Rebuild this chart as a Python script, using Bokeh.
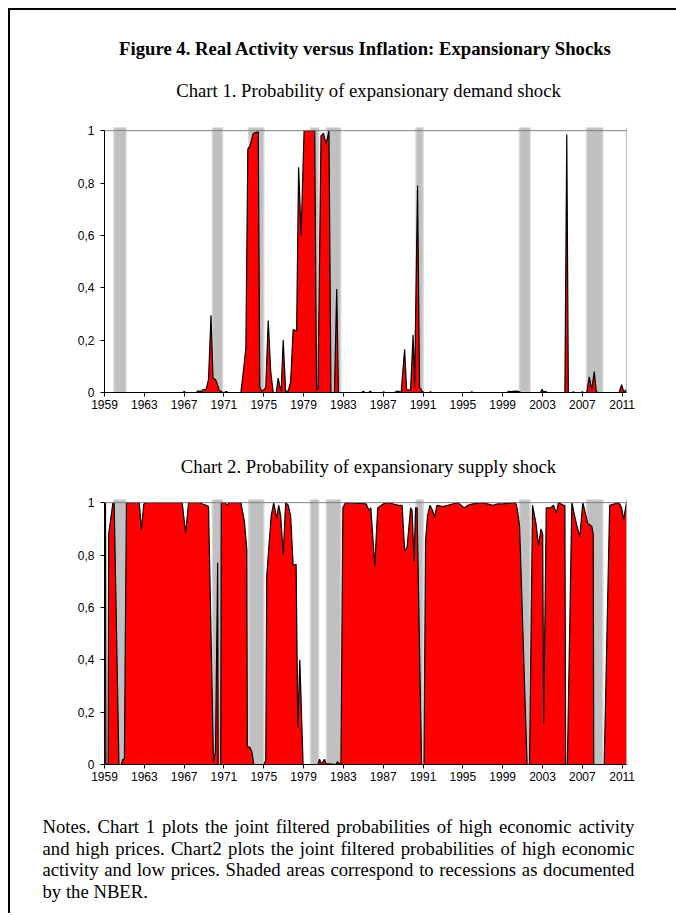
from bokeh.plotting import figure
from bokeh.layouts import column
from bokeh.models import Span, FixedTicker
from bokeh.core.properties import value
from bokeh.embed import file_html
from bokeh.resources import INLINE

# ---------------- data ----------------
recession_start = [1959.95, 1969.85, 1973.5, 1979.7, 1981.3, 1990.3, 2000.7, 2007.45]
recession_end = [1961.15, 1970.85, 1975.0, 1980.5, 1982.72, 1991.0, 2001.75, 2009.05]

demand_years = [1959.00, 1966.90, 1967.00, 1967.15, 1968.20, 1968.40, 1968.70, 1968.95, 1969.20, 1969.45,
                1969.70, 1969.90, 1970.15, 1970.35, 1970.50, 1970.75, 1971.00, 1971.25, 1971.40, 1972.70,
                1972.95, 1973.20, 1973.40, 1973.60, 1973.75, 1973.95, 1974.45, 1974.60, 1974.80, 1975.00,
                1975.20, 1975.45, 1975.70, 1975.95, 1976.25, 1976.45, 1976.60, 1976.75, 1976.95, 1977.20,
                1977.45, 1977.70, 1977.95, 1978.30, 1978.50, 1978.75, 1979.05, 1980.12, 1980.30, 1980.45,
                1980.75, 1981.00, 1981.25, 1981.40, 1981.55, 1981.75, 1982.10, 1982.33, 1982.50, 1984.85,
                1985.00, 1985.15, 1985.55, 1985.70, 1985.85, 1986.95, 1987.05, 1987.15, 1988.15, 1988.35,
                1988.60, 1988.80, 1989.15, 1989.35, 1989.75, 1990.00, 1990.15, 1990.45, 1990.65, 1990.90,
                1991.10, 1991.65, 1991.75, 1991.85, 1995.80, 1995.90, 1996.00, 1999.40, 1999.60, 1999.90,
                2000.20, 2000.60, 2000.85, 2002.80, 2002.95, 2003.10, 2003.30, 2003.45, 2005.25, 2005.44,
                2005.60, 2006.00, 2006.10, 2006.20, 2006.90, 2007.00, 2007.10, 2007.45, 2007.70, 2007.95,
                2008.20, 2008.40, 2008.55, 2010.70, 2010.95, 2011.15, 2011.44]
demand_prob = [0.0, 0.0, 0.004, 0.0, 0.0, 0.006, 0.004, 0.012, 0.010, 0.050,
               0.295, 0.055, 0.050, 0.030, 0.010, 0.003, 0.0, 0.004, 0.0, 0.0,
               0.080, 0.170, 0.930, 0.940, 0.960, 0.990, 0.995, 0.020, 0.005, 0.010,
               0.020, 0.275, 0.080, 0.0, 0.0, 0.055, 0.025, 0.005, 0.200, 0.005,
               0.005, 0.040, 0.240, 0.235, 0.860, 0.600, 1.0, 1.0, 0.010, 0.015,
               0.980, 0.990, 0.950, 0.970, 1.0, 0.0, 0.0, 0.395, 0.0, 0.0,
               0.005, 0.0, 0.0, 0.005, 0.0, 0.0, 0.003, 0.0, 0.0, 0.005,
               0.004, 0.0, 0.165, 0.010, 0.010, 0.220, 0.020, 0.790, 0.020, 0.005,
               0.0, 0.0, 0.003, 0.0, 0.0, 0.003, 0.0, 0.0, 0.004, 0.003,
               0.005, 0.004, 0.0, 0.0, 0.012, 0.002, 0.005, 0.0, 0.0, 0.985,
               0.0, 0.0, 0.003, 0.0, 0.0, 0.003, 0.0, 0.0, 0.060, 0.010,
               0.080, 0.005, 0.0, 0.0, 0.030, 0.003, 0.010]

supply_years = [1959.00, 1959.10, 1959.15, 1959.35, 1959.42, 1959.85, 1959.97, 1960.45, 1960.70, 1960.85,
                1961.00, 1961.20, 1962.50, 1962.70, 1962.95, 1963.20, 1966.80, 1967.15, 1967.45, 1968.60,
                1968.85, 1969.20, 1969.45, 1969.95, 1970.15, 1970.37, 1970.42, 1970.68, 1970.73, 1971.10,
                1971.30, 1971.50, 1972.70, 1973.05, 1973.30, 1973.35, 1973.60, 1973.80, 1974.00, 1975.00,
                1975.20, 1975.30, 1975.45, 1975.75, 1976.00, 1976.30, 1976.50, 1976.70, 1976.95, 1977.20,
                1977.45, 1977.70, 1977.95, 1978.25, 1978.42, 1978.62, 1978.95, 1980.45, 1980.60, 1980.75,
                1980.95, 1981.10, 1981.25, 1982.25, 1982.40, 1982.55, 1982.75, 1982.95, 1983.20, 1985.30,
                1985.45, 1985.60, 1985.75, 1986.15, 1986.45, 1987.00, 1987.50, 1988.50, 1988.90, 1989.15,
                1989.40, 1989.75, 1989.90, 1990.10, 1990.25, 1990.40, 1990.85, 1991.10, 1991.25, 1991.45,
                1991.70, 1991.95, 1992.15, 1992.40, 1993.00, 1993.50, 1994.50, 1995.15, 1995.50, 1996.00,
                1997.00, 1998.00, 1998.50, 1999.00, 2000.30, 2000.45, 2000.70, 2001.45, 2001.70, 2002.00,
                2002.35, 2002.60, 2002.85, 2003.02, 2003.12, 2003.38, 2003.80, 2004.10, 2004.40, 2004.60,
                2005.10, 2005.25, 2005.33, 2005.50, 2005.95, 2006.40, 2006.75, 2007.05, 2007.30, 2007.55,
                2007.95, 2008.10, 2008.15, 2009.20, 2009.75, 2010.65, 2010.95, 2011.15, 2011.44]
supply_prob = [1.0, 1.0, 0.0, 0.0, 0.88, 1.0, 1.0, 0.0, 0.0, 0.02,
               0.02, 1.0, 1.0, 0.895, 0.995, 1.0, 1.0, 0.885, 1.0, 1.0,
               0.995, 0.99, 0.985, 0.010, 0.050, 0.770, 0.0, 0.0, 1.0, 1.0,
               0.99, 1.0, 1.0, 0.93, 0.82, 0.07, 0.065, 0.05, 0.0, 0.0,
               0.015, 0.72, 0.80, 0.95, 1.0, 0.94, 0.99, 0.95, 0.80, 1.0,
               0.99, 0.95, 0.76, 0.765, 0.14, 0.40, 0.0, 0.0, 0.02, 0.005,
               0.01, 0.02, 0.003, 0.0, 0.01, 0.005, 0.0, 0.98, 1.0, 0.995,
               0.98, 0.97, 0.98, 0.76, 0.98, 0.995, 1.0, 0.99, 0.99, 0.815,
               0.83, 0.98, 0.97, 0.775, 0.98, 0.98, 0.0, 0.0, 0.85, 0.95,
               0.99, 0.97, 0.945, 0.99, 0.985, 0.99, 1.0, 0.98, 0.99, 0.995,
               1.0, 0.99, 0.995, 0.995, 1.0, 0.98, 0.91, 0.0, 0.0, 0.99,
               0.92, 0.835, 0.90, 0.88, 0.157, 0.98, 0.98, 0.99, 0.96, 1.0,
               0.99, 0.99, 0.0, 0.0, 1.0, 0.92, 0.87, 1.0, 0.96, 0.92,
               0.91, 0.88, 0.0, 0.0, 0.99, 1.0, 0.98, 0.935, 1.0]

x_tick_years = list(range(1959, 2012, 4))
y_tick_values = [0, 0.2, 0.4, 0.6, 0.8, 1.0]
y_tick_labels = ["0", "0,2", "0,4", "0,6", "0,8", "1"]

title_text = "Figure 4. Real Activity versus Inflation: Expansionary Shocks"
chart1_title = "Chart 1. Probability of expansionary demand shock"
chart2_title = "Chart 2. Probability of expansionary supply shock"
notes_lines = [
    "Notes. Chart 1 plots the joint filtered probabilities of high economic activity",
    "and high prices. Chart2 plots the joint filtered probabilities of high economic",
    "activity and low prices. Shaded areas correspond to recessions as documented",
    "by the NBER.",
]

# ---------------- layout constants ----------------
X0, X1 = 1959.0, 2011.44
Y_TOP = 1.012
FRAME_W, FRAME_H = 522, 265
CONTENT_W = 666
RED = "#FF0000"
GREY = "#C0C0C0"
SERIF = "Liberation Serif"
SANS = "Liberation Sans"
TEXT_SIZE = 18.7

# Times-compatible advance widths (per 1000 em), used only to justify the notes
_W = dict(zip("abcdefghijklmnopqrstuvwxyz",
              [444, 500, 444, 500, 444, 333, 500, 500, 278, 278, 500, 278, 778,
               500, 500, 500, 500, 333, 389, 278, 500, 500, 722, 500, 500, 444]))
_W.update(dict(zip("ABCDEFGHIJKLMNOPQRSTUVWXYZ",
                   [722, 667, 667, 722, 611, 556, 722, 722, 333, 389, 722, 611, 889,
                    722, 722, 556, 722, 667, 556, 611, 722, 722, 944, 722, 722, 611])))
_W.update({c: 500 for c in "0123456789"})
_W.update({".": 250, ",": 250, " ": 250})


def word_width(word):
    return sum(_W.get(c, 500) for c in word) * TEXT_SIZE / 1000.0


def make_chart(years, probs):
    p = figure(frame_width=FRAME_W, frame_height=FRAME_H,
               x_range=(X0, X1), y_range=(0, Y_TOP),
               min_border_left=94, min_border_right=50,
               min_border_top=17, min_border_bottom=40,
               output_backend="svg", toolbar_location=None)
    p.grid.visible = False
    p.outline_line_color = None
    p.background_fill_color = "white"
    p.border_fill_color = "white"

    p.quad(left=recession_start, right=recession_end, bottom=0, top=Y_TOP,
           fill_color=GREY, line_color="#D4D4D4", line_width=1.5)
    p.varea(x=years, y1=0, y2=probs, fill_color=RED)
    p.line(years, probs, line_color="black", line_width=1.2)

    p.add_layout(Span(location=1.0, dimension="width", line_color="#808080", line_width=1))
    p.add_layout(Span(location=X1, dimension="height", line_color="#808080", line_width=1))

    for ax in (p.xaxis[0], p.yaxis[0]):
        ax.axis_line_color = "black"
        ax.major_tick_line_color = "black"
        ax.major_tick_in = 0
        ax.major_tick_out = 4
        ax.minor_tick_line_color = None
        ax.major_label_text_font = SANS
        ax.major_label_text_font_size = "12px"
        ax.major_label_text_color = "black"
    p.xaxis.ticker = FixedTicker(ticks=x_tick_years)
    p.xaxis.major_label_standoff = 3
    p.yaxis.ticker = FixedTicker(ticks=y_tick_values)
    p.yaxis.major_label_overrides = dict(zip(y_tick_values, y_tick_labels))
    p.yaxis.bounds = (0, 1)
    p.yaxis.major_label_standoff = 6
    return p


def text_panel(height):
    # a plain text strip; coordinates are pixels from the strip's top-left corner
    t = figure(width=CONTENT_W, height=height, x_range=(0, CONTENT_W), y_range=(height, 0),
               x_axis_type=None, y_axis_type=None, min_border=0, frame_align=False,
               output_backend="svg", toolbar_location=None)
    t.grid.visible = False
    t.outline_line_color = None
    return t


def put_text(t, xs, ys, texts, align, style="normal"):
    t.text(x=xs, y=ys, text=texts, text_align=align, text_baseline="middle",
           text_font=value(SERIF), text_font_size=f"{TEXT_SIZE}px", text_font_style=style,
           text_color="black")


header = text_panel(100)
put_text(header, [355], [38], [title_text], "center", "bold")
put_text(header, [358], [80], [chart1_title], "center")

p1 = make_chart(demand_years, demand_prob)

middle = text_panel(50)
put_text(middle, [358], [34], [chart2_title], "center")

p2 = make_chart(supply_years, supply_prob)

# notes: justified paragraph (last line left aligned)
notes = text_panel(109)
left_px, right_px = 32, 624
wx, wy, wt = [], [], []
for i, line in enumerate(notes_lines):
    y = 22 + 21.5 * i
    words = line.split(" ")
    widths = [word_width(w) for w in words]
    if i < len(notes_lines) - 1 and len(words) > 1:
        gap = (right_px - left_px - sum(widths)) / (len(words) - 1)
    else:
        gap = word_width(" ")
    x = left_px
    for w, wd in zip(words, widths):
        wx.append(x)
        wy.append(y)
        wt.append(w)
        x += wd + gap
put_text(notes, wx, wy, wt, "left")

layout = column(header, p1, middle, p2, notes,
                styles={"border-left": "2px solid black", "border-top": "2px solid black",
                        "margin-left": "8px", "margin-top": "8px"})

open("out.html", "w").write(file_html(layout, INLINE))
